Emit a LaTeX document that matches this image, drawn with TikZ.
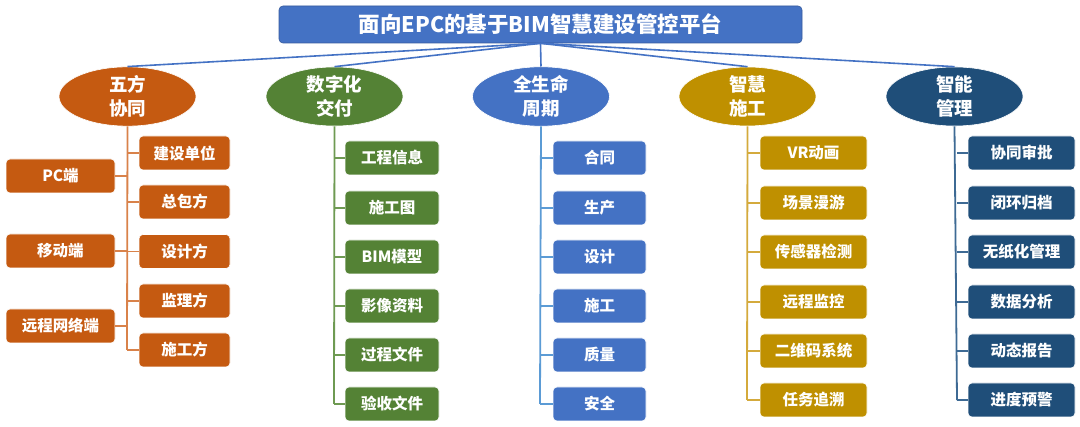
\documentclass[tikz,border=0pt]{standalone}
\usepackage{fontspec}
\setmainfont{Noto Sans CJK SC}
\usetikzlibrary{shapes.geometric}
\definecolor{cOr}{HTML}{C55A11}
\definecolor{cGr}{HTML}{548235}
\definecolor{cBl}{HTML}{4472C4}
\definecolor{cGo}{HTML}{BF9000}
\definecolor{cNv}{HTML}{1F4E79}
\definecolor{lOr}{HTML}{D9824A}
\definecolor{lGr}{HTML}{6E9A52}
\definecolor{lBl}{HTML}{5B9BD5}
\definecolor{lGo}{HTML}{D4AA3C}
\definecolor{lNv}{HTML}{3E6A94}
\begin{document}
\begin{tikzpicture}[x=1pt,y=-1pt,
  box/.style={rounded corners=4pt, minimum height=34pt, inner sep=0pt, text=white,
    draw=white, line width=0.6pt, font=\bfseries\fontsize{15.5}{18}\selectfont},
  ell/.style={ellipse, minimum width=137pt, minimum height=49pt, inner sep=0pt, text=white,
    draw=white, line width=0.6pt, align=center, font=\bfseries\fontsize{18.5}{24}\selectfont},
  topline/.style={draw=cBl, line width=1.6pt},
  trunk/.style={line width=1.8pt},
  stub/.style={line width=1.8pt}]
\useasboundingbox (0,0) rectangle (1080,427);
\fill[white] (0,0) rectangle (1080,427);

% title
\node[box, fill=cBl, draw=cBl!80!black, minimum width=523pt, minimum height=37pt,
  font=\bfseries\fontsize{21.5}{24}\selectfont] (top) at (540.5,24.5) {面向EPC的基于BIM智慧建设管控平台};

% category ellipses
\node[ell, fill=cOr] (e1) at (127.5,96.5) {五方\\协同};
\node[ell, fill=cGr] (e2) at (334.5,96.5) {数字化\\交付};
\node[ell, fill=cBl] (e3) at (541,96.5) {全生命\\周期};
\node[ell, fill=cGo] (e4) at (747.5,96.5) {智慧\\施工};
\node[ell, fill=cNv] (e5) at (954.5,96.5) {智能\\管理};

\foreach \e in {e1,e2,e3,e4,e5} \draw[topline] (top.south) -- (\e.north);

% column 1
\begin{scope}[every node/.style={box, fill=cOr, minimum width=91pt}]
\node (a1) at (184.5,153) {建设单位};
\node (a2) at (184.5,202) {总包方};
\node (a3) at (184.5,251.5) {设计方};
\node (a4) at (184.5,301) {监理方};
\node (a5) at (184.5,350) {施工方};
\end{scope}
\begin{scope}[every node/.style={box, fill=cOr, minimum width=109pt}]
\node (p1) at (60.5,176) {PC端};
\node (p2) at (60.5,251) {移动端};
\node (p3) at (60.5,326) {远程网络端};
\end{scope}
\coordinate (t1) at (127,350);
\draw[trunk, lOr] (e1.south) -- (t1);
\foreach \b in {a1,a2,a3,a4,a5} \draw[stub, lOr] (t1 |- \b.west) -- (\b.west);
\foreach \b in {p1,p2,p3} \draw[stub, lOr] (\b.east) -- (t1 |- \b.east);

% column 2
\begin{scope}[every node/.style={box, fill=cGr, minimum width=94pt}]
\node (b1) at (392,158) {工程信息};
\node (b2) at (392,208) {施工图};
\node (b3) at (392,257) {BIM模型};
\node (b4) at (392,306) {影像资料};
\node (b5) at (392,355) {过程文件};
\node (b6) at (392,404) {验收文件};
\end{scope}
\coordinate (t2) at (334,404);
\draw[trunk, lGr] (e2.south) -- (t2);
\foreach \b in {b1,b2,b3,b4,b5,b6} \draw[stub, lGr] (t2 |- \b.west) -- (\b.west);

% column 3
\begin{scope}[every node/.style={box, fill=cBl, minimum width=93pt}]
\node (c1) at (599.5,158) {合同};
\node (c2) at (599.5,208) {生产};
\node (c3) at (599.5,257) {设计};
\node (c4) at (599.5,306) {施工};
\node (c5) at (599.5,355) {质量};
\node (c6) at (599.5,404) {安全};
\end{scope}
\coordinate (t3) at (540,404);
\draw[trunk, lBl] (e3.south) -- (t3);
\foreach \b in {c1,c2,c3,c4,c5,c6} \draw[stub, lBl] (t3 |- \b.west) -- (\b.west);

% column 4
\begin{scope}[every node/.style={box, fill=cGo, minimum width=107pt}]
\node (d1) at (813.5,153) {VR动画};
\node (d2) at (813.5,203) {场景漫游};
\node (d3) at (813.5,252) {传感器检测};
\node (d4) at (813.5,302) {远程监控};
\node (d5) at (813.5,351) {二维码系统};
\node (d6) at (813.5,400) {任务追溯};
\end{scope}
\coordinate (t4) at (747,400);
\draw[trunk, lGo] (e4.south) -- (t4);
\foreach \b in {d1,d2,d3,d4,d5,d6} \draw[stub, lGo] (t4 |- \b.west) -- (\b.west);

% column 5
\begin{scope}[every node/.style={box, fill=cNv, minimum width=107pt}]
\node (f1) at (1021.5,153) {协同审批};
\node (f2) at (1021.5,203) {闭环归档};
\node (f3) at (1021.5,252) {无纸化管理};
\node (f4) at (1021.5,302) {数据分析};
\node (f5) at (1021.5,351) {动态报告};
\node (f6) at (1021.5,400) {进度预警};
\end{scope}
\coordinate (t5) at (957,400);
\draw[trunk, lNv] (e5.south) -- (t5);
\foreach \b in {f1,f2,f3,f4,f5,f6} \draw[stub, lNv] (t5 |- \b.west) -- (\b.west);
\end{tikzpicture}
\end{document}
